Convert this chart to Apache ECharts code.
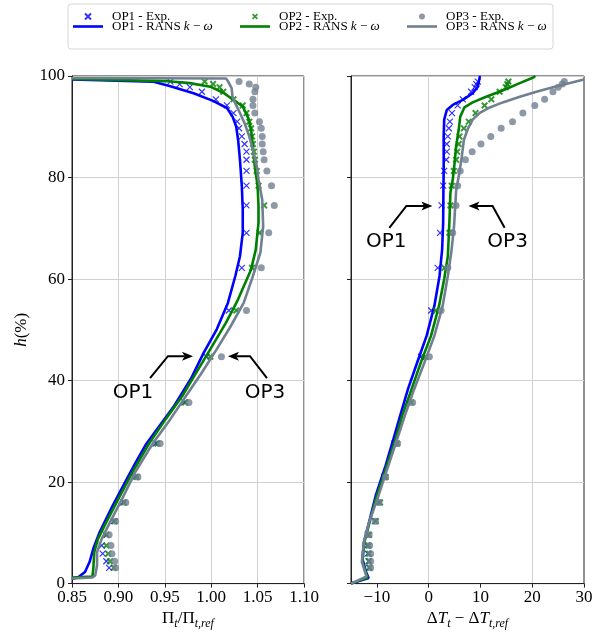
<!DOCTYPE html>
<html><head><meta charset="utf-8">
<script src="https://cdn.jsdelivr.net/npm/echarts@6/dist/echarts.min.js"></script>
<style>html,body{margin:0;padding:0;background:#fff}#c{width:607px;height:635px}</style>
</head><body><div id="c"></div>
<script>
// ---------- DATA ----------
// measurement heights (h, %) shared by all experimental profiles
const hExp = [98.9, 98.4, 97.8, 96.9, 95.4, 94.2, 92.7, 91.0, 89.7, 88.1, 86.6, 85.1, 83.5, 81.3, 78.4, 74.5, 69.1, 62.2, 53.8, 44.7, 35.7, 27.6, 21.0, 16.0, 12.3, 9.6, 7.5, 5.9, 4.4, 3.1];

// Left panel: Pi_t / Pi_t,ref
const op1ExpPi = [0.956, 0.966, 0.977, 0.990, 1.005, 1.017, 1.024, 1.028, 1.030, 1.033, 1.036, 1.038, 1.038, 1.038, 1.038, 1.038, 1.038, 1.033, 1.019, 0.995, 0.971, 0.940, 0.918, 0.905, 0.895, 0.887, 0.882, 0.883, 0.887, 0.890];
const op2ExpPi = [0.993, 1.002, 1.009, 1.013, 1.024, 1.034, 1.038, 1.041, 1.043, 1.044, 1.045, 1.046, 1.047, 1.049, 1.051, 1.057, 1.052, 1.044, 1.027, 0.999, 0.972, 0.942, 0.920, 0.906, 0.896, 0.887, 0.887, 0.889, 0.891, 0.895];
const op3ExpPi = [1.030, 1.041, 1.048, 1.047, 1.045, 1.045, 1.047, 1.052, 1.054, 1.055, 1.055, 1.056, 1.057, 1.060, 1.065, 1.068, 1.062, 1.054, 1.038, 1.011, 0.976, 0.945, 0.921, 0.908, 0.897, 0.890, 0.892, 0.893, 0.896, 0.897];

// RANS k-omega profiles, [value, h]
const op1RansPi = [[0.850,0.9],[0.857,1.3],[0.864,2.3],[0.869,4.3],[0.873,6.9],[0.880,10.2],[0.894,15.4],[0.909,20.6],[0.919,24.0],[0.930,27.5],[0.944,31.0],[0.960,35.0],[0.978,40.3],[0.992,45.5],[1.006,50.1],[1.018,55.3],[1.026,60.6],[1.031,64.5],[1.034,69.1],[1.034,73.7],[1.033,78.3],[1.031,83.5],[1.029,87.4],[1.027,90.0],[1.023,92.0],[1.017,93.7],[1.002,95.1],[0.981,96.6],[0.956,98.0],[0.937,98.9],[0.850,99.3]];
const op2RansPi = [[0.850,1.2],[0.872,1.4],[0.873,3.0],[0.874,6.2],[0.878,8.8],[0.887,12.1],[0.900,16.7],[0.915,21.9],[0.933,27.6],[0.951,32.4],[0.969,37.0],[0.986,42.2],[1.001,46.8],[1.016,51.4],[1.029,56.0],[1.043,61.9],[1.048,65.8],[1.051,71.1],[1.051,74.3],[1.050,78.3],[1.047,82.2],[1.045,86.1],[1.043,89.4],[1.040,91.7],[1.034,94.0],[1.024,95.3],[1.013,96.7],[0.999,97.9],[0.977,98.6],[0.950,99.0],[0.850,99.4]];
const op3RansPi = [[0.850,1.0],[0.872,1.2],[0.875,1.6],[0.877,3.6],[0.877,6.2],[0.882,8.8],[0.891,12.1],[0.904,16.7],[0.918,21.9],[0.937,27.6],[0.956,32.4],[0.973,37.0],[0.990,41.6],[1.006,46.2],[1.021,50.7],[1.035,55.3],[1.045,60.6],[1.053,65.2],[1.056,70.4],[1.055,75.6],[1.051,79.6],[1.049,82.2],[1.045,85.5],[1.041,88.1],[1.036,90.7],[1.031,92.7],[1.026,94.6],[1.023,95.9],[1.022,97.6],[1.018,99.0],[1.016,99.5],[0.850,99.6]];

// Right panel: dT_t - dT_t,ref
const op1ExpDT = [9.5, 9.2, 8.9, 8.2, 6.6, 5.6, 4.5, 4.1, 3.9, 3.7, 3.5, 3.5, 3.4, 3.0, 2.8, 2.5, 2.2, 1.75, 0.5, -1.5, -4.1, -6.6, -8.6, -9.7, -10.4, -11.8, -11.9, -11.8, -11.6, -11.5];
const op2ExpDT = [15.4, 15.2, 14.9, 13.7, 12.1, 10.8, 9.05, 7.75, 6.8, 5.95, 5.8, 5.5, 5.3, 4.85, 4.45, 4.2, 4.0, 3.05, 1.4, -0.6, -3.4, -6.1, -8.3, -9.4, -10.2, -11.5, -11.6, -11.5, -11.5, -11.4];
const op3ExpDT = [26.2, 25.8, 25.0, 24.0, 22.4, 20.5, 18.2, 16.2, 14.0, 12.0, 10.1, 8.4, 7.1, 6.1, 5.6, 5.3, 4.65, 3.7, 2.4, 0.14, -3.1, -6.0, -8.3, -9.6, -10.3, -11.5, -11.4, -11.2, -11.2, -11.2];

const op1RansDT = [[-15.0,0.0],[-11.6,1.1],[-12.1,2.3],[-12.8,4.9],[-12.5,8.2],[-11.5,12.1],[-10.2,17.4],[-8.3,23.3],[-7.0,27.8],[-5.5,33.1],[-4.0,38.3],[-2.2,43.6],[-0.4,48.8],[1.1,54.7],[2.1,60.6],[2.6,65.8],[2.8,71.1],[2.85,77.6],[2.9,81.5],[2.9,84.8],[2.9,88.1],[3.0,91.4],[3.5,93.3],[4.65,94.3],[6.6,95.3],[8.5,96.6],[9.5,97.9],[9.8,99.5],[9.9,100]];
const op2RansDT = [[-15.0,0.0],[-11.8,1.2],[-12.1,2.0],[-12.8,4.3],[-12.4,8.2],[-11.4,12.1],[-10.2,16.7],[-8.3,22.6],[-6.6,27.8],[-5.1,33.1],[-3.3,38.3],[-1.5,43.6],[0.45,48.8],[2.0,54.7],[3.0,60.0],[3.7,64.5],[4.0,71.1],[4.2,77.0],[4.65,79.6],[5.0,82.8],[5.3,86.1],[5.8,89.4],[6.1,92.0],[6.9,93.8],[8.5,94.8],[11.1,95.9],[14.4,97.2],[17.6,98.6],[20.2,99.7],[20.6,100]];
const op3RansDT = [[-15.0,0.0],[-12.0,1.4],[-12.9,4.3],[-12.5,8.2],[-11.5,12.1],[-9.9,16.7],[-8.0,22.6],[-6.3,27.8],[-4.6,33.1],[-2.8,38.3],[-0.8,43.6],[1.1,48.8],[2.7,54.7],[3.7,60.6],[4.4,65.5],[4.9,70.4],[5.3,77.4],[5.9,80.8],[6.4,84.1],[6.8,87.4],[7.6,89.7],[8.5,91.4],[9.8,92.7],[11.8,93.8],[14.3,94.8],[17.6,95.9],[20.8,96.9],[24.0,97.8],[27.3,98.6],[30.0,99.3]];

// tick labels
const piTicks = [0.85, 0.90, 0.95, 1.00, 1.05, 1.10];
const dtTicks = [-10, 0, 10, 20, 30];
const hTicks = [0, 20, 40, 60, 80, 100];

// annotations (data coordinates): [label, textPos, arrowStart, arrowCorner, arrowTip]
const annLeft = [
  ['OP1', [0.9157, 37.5], [0.9341, 40.5], [0.9534, 44.8], [0.9804, 44.8]],
  ['OP3', [1.0580, 37.5], [1.0601, 40.5], [1.0418, 44.8], [1.0181, 44.8]]
];
const annRight = [
  ['OP1', [-8.2, 67.4], [-7.6, 70.1], [-4.3, 74.4], [0.72, 74.4]],
  ['OP3', [15.25, 67.4], [14.67, 70.1], [12.34, 74.4], [7.7, 74.4]]
];

// ---------- CHART ----------
const SERIF = '"Liberation Serif","DejaVu Serif",serif';
const SANS = '"DejaVu Sans",sans-serif';
const C1 = '#0000ff', C2 = '#008000', C3 = '#708090';
const N1E = 'OP1 - Exp.', N1R = 'OP1 - RANS k-ω';
const N2E = 'OP2 - Exp.', N2R = 'OP2 - RANS k-ω';
const N3E = 'OP3 - Exp.', N3R = 'OP3 - RANS k-ω';
const xSym = 'path://M0,0L10,10M10,0L0,10';
const XSym = 'path://M2,0L5,3L8,0L10,2L7,5L10,8L8,10L5,7L2,10L0,8L3,5L0,2Z';
const lineIcon = 'path://M0,0L30,0L30,2.6L0,2.6Z';

const zipH = xs => xs.map((v, i) => [v, hExp[i]]);
const fmtMinus = v => (v < 0 ? '\u2212' + Math.abs(v) : String(v));

function expSeries(name, g, data, sym, size, color, z) {
  const s = {
    type: 'scatter', name, xAxisIndex: g, yAxisIndex: g, data, symbol: sym, symbolSize: size, z,
    itemStyle: {color: color}, emphasis: {disabled: true}, silent: true
  };
  if (sym === xSym) s.itemStyle = {color: 'rgba(0,0,0,0)', borderColor: color, borderWidth: 1.2};
  return s;
}
function ransSeries(name, g, data, color, z) {
  return {
    type: 'line', name, xAxisIndex: g, yAxisIndex: g, data, symbol: 'none', showSymbol: false, z,
    lineStyle: {color, width: 2.6}, itemStyle: {color}, emphasis: {disabled: true}, silent: true
  };
}

const legendRich = {
  n: {fontFamily: SERIF, fontSize: 13, color: '#000', lineHeight: 10},
  i: {fontFamily: SERIF, fontSize: 13, fontStyle: 'italic', color: '#000', lineHeight: 10}
};
function legendFmt(name) {
  if (name.indexOf('RANS') >= 0) {
    const p = name.split(' k')[0];
    return '{n|' + p + ' }{i|k}{n| \u2212 }{i|ω}';
  }
  return '{n|' + name + '}';
}
function mkLegend(left, expName, ransName) {
  return {
    orient: 'vertical', left, top: 10, padding: 0, itemGap: -3, itemWidth: 30, itemHeight: 6,
    selectedMode: false,
    data: [{name: expName}, {name: ransName, icon: lineIcon}],
    formatter: legendFmt,
    textStyle: {rich: legendRich, lineHeight: 10, padding: [0, 0, 0, 4]}
  };
}

const axisTxt = {fontFamily: SERIF, fontSize: 17, color: '#000'};
const nameRich = {
  a: {fontFamily: SERIF, fontSize: 17, color: '#000', lineHeight: 22},
  ai: {fontFamily: SERIF, fontSize: 17, fontStyle: 'italic', color: '#000', lineHeight: 22},
  s: {fontFamily: SERIF, fontSize: 12, fontStyle: 'italic', color: '#000', lineHeight: 12, verticalAlign: 'bottom'}
};
const gridLine = {show: true, lineStyle: {color: '#d0d0d0', width: 1}};
const tick = {show: true, inside: false, length: 4, lineStyle: {color: '#222', width: 1}};
const axLine = {show: true, onZero: false, lineStyle: {color: '#222', width: 1}};

const chart = echarts.init(document.getElementById('c'), null, {renderer: 'canvas'});
chart.setOption({
  animation: false,
  backgroundColor: '#fff',
  legend: [mkLegend(73, N1E, N1R), mkLegend(240, N2E, N2R), mkLegend(407, N3E, N3R)],
  grid: [
    {left: 72, top: 76, width: 232, height: 509, show: true, borderColor: '#222', borderWidth: 1},
    {left: 351, top: 76, width: 233, height: 509, show: true, borderColor: '#222', borderWidth: 1}
  ],
  xAxis: [
    {
      type: 'value', gridIndex: 0, min: piTicks[0], max: piTicks[piTicks.length - 1], interval: 0.05,
      axisLine: axLine, axisTick: tick, splitLine: gridLine,
      axisLabel: Object.assign({margin: 5, formatter: v => v.toFixed(2)}, axisTxt),
      name: '{a|Π}{s|t}{a|/Π}{s|t,ref}', nameLocation: 'middle', nameGap: 22,
      nameTextStyle: {rich: nameRich}
    },
    {
      type: 'value', gridIndex: 1, min: -15, max: 30, interval: 5,
      axisLine: axLine,
      axisTick: Object.assign({customValues: dtTicks}, tick),
      splitLine: {show: true, lineStyle: {color: ['rgba(0,0,0,0)', '#d0d0d0'], width: 1}},
      axisLabel: Object.assign({margin: 5, customValues: dtTicks,
        formatter: v => (dtTicks.indexOf(v) >= 0 ? fmtMinus(v) : '')}, axisTxt),
      name: '{a|Δ}{ai|T}{s|t}{a| \u2212 Δ}{ai|T}{s|t,ref}', nameLocation: 'middle', nameGap: 22,
      nameTextStyle: {rich: nameRich}
    }
  ],
  yAxis: [
    {
      type: 'value', gridIndex: 0, min: hTicks[0], max: hTicks[hTicks.length - 1], interval: 20,
      axisLine: axLine, axisTick: tick, splitLine: gridLine,
      axisLabel: Object.assign({margin: 7}, axisTxt),
      name: '{ai|h}{a|(%)}', nameLocation: 'middle', nameGap: 39, nameRotate: 90,
      nameTextStyle: {rich: nameRich}
    },
    {
      type: 'value', gridIndex: 1, min: hTicks[0], max: hTicks[hTicks.length - 1], interval: 20,
      axisLine: axLine, axisTick: tick, splitLine: gridLine,
      axisLabel: {show: false}
    }
  ],
  series: [
    expSeries(N1E, 0, zipH(op1ExpPi), xSym, 6, C1, 2),
    ransSeries(N1R, 0, op1RansPi, C1, 3),
    expSeries(N2E, 0, zipH(op2ExpPi), XSym, 7, C2, 4),
    ransSeries(N2R, 0, op2RansPi, C2, 5),
    expSeries(N3E, 0, zipH(op3ExpPi), 'circle', 7, C3, 6),
    ransSeries(N3R, 0, op3RansPi, C3, 7),
    expSeries(N1E, 1, zipH(op1ExpDT), xSym, 6, C1, 2),
    ransSeries(N1R, 1, op1RansDT, C1, 3),
    expSeries(N2E, 1, zipH(op2ExpDT), XSym, 7, C2, 4),
    ransSeries(N2R, 1, op2RansDT, C2, 5),
    expSeries(N3E, 1, zipH(op3ExpDT), 'circle', 7, C3, 6),
    ransSeries(N3R, 1, op3RansDT, C3, 7)
  ]
});

// annotations converted from data coordinates
const gfx = [{
  type: 'rect', shape: {x: 68, y: 4, width: 485, height: 45, r: 3},
  style: {fill: '#fff', stroke: '#d6d6d6', lineWidth: 1}, z: 0, silent: true
}];
function addAnn(list, gi) {
  list.forEach(a => {
    const P = p => chart.convertToPixel({gridIndex: gi}, p);
    const t = P(a[1]), s = P(a[2]), c = P(a[3]), tip = P(a[4]);
    const dx = tip[0] - c[0], dy = tip[1] - c[1], L = Math.hypot(dx, dy);
    const ux = dx / L, uy = dy / L, nx = -uy, ny = ux;
    const hl = 11, hw = 4.5;
    const base = [tip[0] - ux * hl, tip[1] - uy * hl];
    const notch = [tip[0] - ux * hl * 0.75, tip[1] - uy * hl * 0.75];
    gfx.push({type: 'polyline', shape: {points: [s, c, notch]}, style: {stroke: '#000', lineWidth: 2, fill: null}, z: 20, silent: true});
    gfx.push({type: 'polygon', shape: {points: [tip, [base[0] + nx * hw, base[1] + ny * hw], notch, [base[0] - nx * hw, base[1] - ny * hw]]}, style: {fill: '#000'}, z: 20, silent: true});
    gfx.push({type: 'text', x: t[0], y: t[1], style: {text: a[0], fontFamily: SANS, fontSize: 20, fill: '#000', align: 'center', verticalAlign: 'middle'}, z: 20, silent: true});
  });
}
addAnn(annLeft, 0);
addAnn(annRight, 1);
chart.setOption({graphic: gfx});
</script>
</body></html>
